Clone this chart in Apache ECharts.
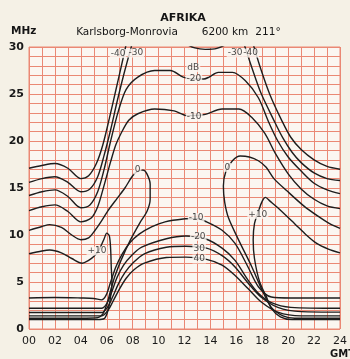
<!DOCTYPE html>
<html>
<head>
<meta charset="utf-8">
<style>
  html, body { margin: 0; padding: 0; background: #f5f1e6; }
  #chart { width: 350px; height: 359px; }
</style>
<script src="https://cdn.jsdelivr.net/npm/echarts@6/dist/echarts.min.js"></script>
</head>
<body>
<div id="chart"></div>
<script>
// tick labels
const xTicks = ["00", "02", "04", "06", "08", "10", "12", "14", "16", "18", "20", "22", "24"];
const yTicks = ["0", "5", "10", "15", "20", "25", "30"];

// contour lines, [hour GMT, MHz]
// upper family (above MUF)
const m40Left = [[0,17.1],[1,17.4],[2,17.6],[3,17.1],[4,16.0],[4.6,16.3],[5.2,17.6],[5.7,19.6],[6.2,22.4],[6.7,25.4],[7.1,27.8],[7.5,30.3]];
const m40Right = [[17.3,30.3],[17.9,27.6],[18.6,24.9],[19.5,22.2],[20.2,20.4],[21,19.1],[22,18.0],[23,17.3],[24,17.0]];
const m30Left = [[0,15.6],[1,16.0],[2,16.2],[3,15.6],[4,14.6],[4.7,14.9],[5.3,16.2],[5.8,18.5],[6.3,21.2],[6.8,24.2],[7.3,27.0],[7.95,30.3]];
const m30Top = [[12.0,30.4],[12.8,29.9],[13.6,29.75],[14.5,29.85],[15.4,30.4]];
const m30Right = [[16.6,30.3],[17.2,27.8],[17.9,25.1],[18.9,22.2],[19.6,20.3],[20.3,18.8],[21,17.7],[22,16.6],[23,16.0],[24,15.8]];
const m20 = [[0,14.2],[1,14.6],[2,14.8],[3,14.1],[4,12.9],[4.7,13.2],[5.3,14.6],[5.8,17.0],[6.3,20.0],[6.9,23.2],[7.5,25.5],[8.4,26.8],[9.7,27.5],[10.9,27.5],[11.9,26.8],[12.7,26.6],[13.5,26.6],[13.9,26.8],[14.6,27.3],[15.7,27.3],[16.7,26.4],[17.7,24.6],[18.5,22.0],[19.2,20.0],[20,18.3],[21,16.8],[22,15.5],[23,14.8],[24,14.4]];
const m10Up = [[0,12.6],[1,13.0],[2,13.2],[3,12.5],[4,11.4],[4.8,11.8],[5.3,13.0],[5.8,15.3],[6.3,17.8],[6.7,19.6],[7.1,20.8],[7.7,22.2],[8.4,22.9],[9.7,23.4],[11.2,23.2],[12.2,22.7],[13.5,22.8],[14.9,23.4],[16.2,23.4],[17.2,22.5],[18.2,20.8],[19,18.7],[20,16.5],[21,14.9],[22,13.8],[23,13.1],[24,12.8]];
const zeroLeft = [[0,10.5],[1,10.9],[1.6,11.1],[2.5,10.8],[3.3,10.0],[4,9.5],[4.6,9.7],[5.1,10.5],[5.6,11.5],[6.1,12.6],[6.8,13.9],[7.4,15.0],[8.0,16.3],[8.4,16.8],[8.8,16.9],[9.1,16.5],[9.35,15.4],[9.35,13.8],[9.1,12.5],[8.6,11.4],[7.8,9.4],[7.1,7.3],[6.6,5.5],[6.3,4.1],[6.0,2.6],[5.7,1.6],[5.3,1.2],[4,1.15],[0,1.15]];
const zeroRight = [[24,1.15],[20.5,1.15],[19.6,1.4],[18.7,2.3],[18.0,4.1],[17.2,6.6],[16.2,9.4],[15.4,11.8],[15.1,13.5],[15.0,15.2],[15.2,16.8],[15.7,17.9],[16.3,18.4],[17.0,18.3],[17.7,17.9],[18.3,17.2],[18.9,16.0],[19.9,14.7],[21.2,13.1],[22.3,12.0],[23.2,11.2],[24,10.7]];
const plusLeft = [[0,8.0],[1,8.3],[1.6,8.4],[2.5,8.1],[3.3,7.5],[4.1,7.0],[4.6,7.3],[5.0,7.7],[5.4,8.4],[5.8,9.6],[6.0,10.2],[6.2,9.9],[6.3,8.5],[6.35,6.5],[6.4,5.0],[6.3,3.5],[6.1,2.0],[5.8,1.1],[5.3,1.0],[0,1.0]];
const plusRight = [[24,1.0],[20.3,1.0],[19.4,1.3],[18.7,2.2],[18.3,3.5],[17.8,5.0],[17.4,7.5],[17.3,9.5],[17.4,11.2],[17.7,12.5],[18.0,13.6],[18.25,14.0],[18.6,13.6],[19.2,12.9],[20.5,11.2],[21.4,10.0],[22.2,9.1],[23.1,8.5],[24,8.1]];
// lower family (below LUF)
const m10Low = [[0,3.3],[2,3.35],[4,3.3],[5,3.25],[5.6,3.1],[5.95,3.6],[6.3,5.0],[6.7,6.6],[7.2,8.0],[7.8,9.2],[8.5,10.1],[9.5,10.9],[10.5,11.4],[11.9,11.7],[12.9,11.75],[13.7,11.4],[14.9,10.5],[15.9,9.1],[16.9,6.6],[17.7,4.5],[18.7,3.4],[20.2,3.3],[24,3.3]];
const m20Low = [[0,2.2],[3,2.2],[5.6,2.2],[6.0,2.7],[6.4,4.0],[6.8,5.5],[7.3,6.8],[7.9,7.8],[8.7,8.7],[10.6,9.6],[12.1,9.9],[13.6,9.6],[14.9,8.6],[15.9,7.3],[16.9,5.2],[17.7,3.8],[18.7,2.8],[20.2,2.3],[24,2.2]];
const m30Low = [[0,1.75],[3,1.75],[5.6,1.75],[6.05,2.3],[6.45,3.4],[6.9,4.8],[7.4,6.0],[8.0,7.0],[8.9,8.0],[10.6,8.7],[12.1,8.8],[13.7,8.6],[14.9,7.8],[15.9,6.6],[16.9,4.9],[17.9,3.4],[19.2,2.3],[21,1.85],[24,1.8]];
const m40Low = [[0,1.4],[3,1.4],[5.6,1.4],[6.1,2.0],[6.5,3.0],[7.0,4.3],[7.5,5.4],[8.1,6.3],[8.9,7.0],[10.6,7.6],[12.1,7.65],[13.7,7.4],[14.9,6.8],[15.9,5.7],[16.9,4.3],[17.9,2.9],[19.2,1.8],[21,1.4],[24,1.4]];

// contour level labels: [text, hour, MHz]
const levelLabels = [
  ["-40", 6.87, 29.3], ["-30", 8.25, 29.35], ["-30", 15.9, 29.35], ["-40", 17.1, 29.35],
  ["dB", 12.68, 27.8], ["-20", 12.72, 26.6], ["-10", 12.75, 22.55],
  ["0", 8.38, 16.9], ["0", 15.3, 17.2], ["+10", 5.25, 8.3], ["+10", 17.66, 12.2],
  ["-10", 12.9, 11.85], ["-20", 13.06, 9.86], ["30", 13.13, 8.6], ["40", 13.13, 7.45],
];

const curves = [m40Left, m40Right, m30Left, m30Top, m30Right, m20, m10Up,
  zeroLeft, zeroRight, plusLeft, plusRight, m10Low, m20Low, m30Low, m40Low];

const gridColor = "#ea8874";
const inkColor = "#1d1d1d";
const paper = "#fbf6f1";
const font = "DejaVu Sans";

const chart = echarts.init(document.getElementById("chart"));

chart.setOption({
  backgroundColor: "#f5f1e6",
  animation: false,
  grid: {
    left: 29, right: 3, top: 47, bottom: 30,
    show: true, backgroundColor: paper, borderColor: gridColor, borderWidth: 1,
  },
  xAxis: {
    type: "value", min: 0, max: 24, interval: 1,
    axisLine: { show: false }, axisTick: { show: false },
    splitLine: { lineStyle: { color: gridColor, width: 1 } },
    axisLabel: {
      margin: 7, color: "#1a1a1a", fontSize: 11, fontFamily: font,
      showMinLabel: true, showMaxLabel: true,
      formatter: (v) => (v % 2 === 0 ? xTicks[v / 2] : ""),
    },
  },
  yAxis: {
    type: "value", min: 0, max: 30, interval: 1,
    axisLine: { show: false }, axisTick: { show: false },
    splitLine: { lineStyle: { color: gridColor, width: 1 } },
    axisLabel: {
      margin: 5, color: "#1a1a1a", fontSize: 11, fontWeight: "bold", fontFamily: font,
      formatter: (v) => (v % 5 === 0 ? yTicks[v / 5] : ""),
    },
  },
  graphic: [
    { type: "text", x: 183, y: 18, style: { text: "AFRIKA", align: "center", verticalAlign: "middle", fontSize: 11, fontWeight: "bold", fontFamily: font, fill: "#151515" } },
    { type: "text", x: 127, y: 32, style: { text: "Karlsborg-Monrovia", align: "center", verticalAlign: "middle", fontSize: 10.5, fontFamily: font, fill: "#151515" } },
    { type: "text", x: 225, y: 32, style: { text: "6200 km", align: "center", verticalAlign: "middle", fontSize: 10.5, fontFamily: font, fill: "#151515" } },
    { type: "text", x: 268, y: 32, style: { text: "211°", align: "center", verticalAlign: "middle", fontSize: 10.5, fontFamily: font, fill: "#151515" } },
    { type: "text", x: 11, y: 31, style: { text: "MHz", align: "left", verticalAlign: "middle", fontSize: 10.5, fontWeight: "bold", fontFamily: font, fill: "#151515" } },
    { type: "text", x: 330, y: 354, style: { text: "GMT", align: "left", verticalAlign: "middle", fontSize: 10, fontWeight: "bold", fontFamily: font, fill: "#151515" } },
  ],
  series: [
    ...curves.map((d) => ({
      type: "line", data: d, smooth: 0.3, symbol: "none", silent: true, z: 3,
      lineStyle: { color: inkColor, width: 1.4 },
    })),
    {
      type: "scatter", symbolSize: 0, silent: true, z: 5,
      data: levelLabels.map(([t, h, m]) => ({ name: t, value: [h, m] })),
      label: {
        show: true, position: "inside", formatter: "{b}",
        fontSize: 9, fontFamily: font, color: "#151515",
        backgroundColor: paper, padding: [0, 1],
      },
    },
  ],
});
</script>
</body>
</html>
